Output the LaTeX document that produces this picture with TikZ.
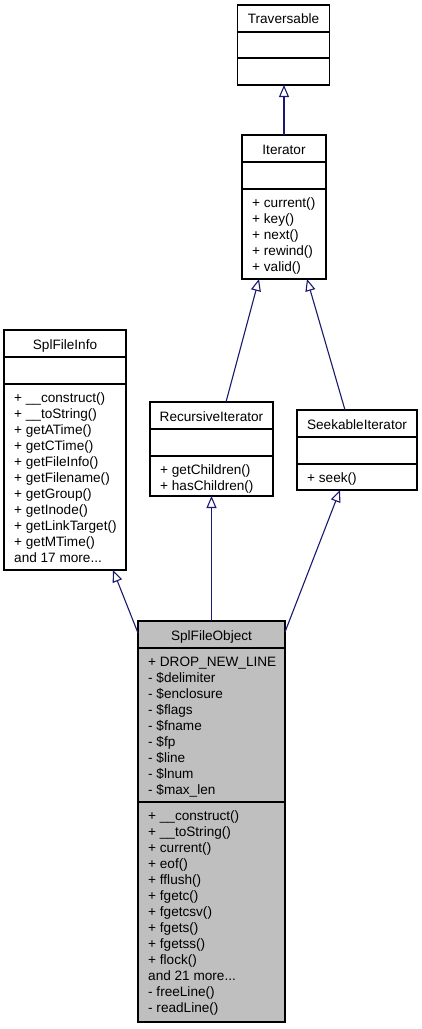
\documentclass[tikz,border=0pt]{standalone}
\usepackage{fontspec}
\setmainfont{Liberation Sans}
\usetikzlibrary{arrows.meta,calc}
\definecolor{edgeblue}{HTML}{191970}
\definecolor{objgray}{HTML}{BFBFBF}
\newcommand\rowfont{\fontsize{13.6}{16}\selectfont}
\newcommand\mdots{...}
\newcommand\umlrows[4]{%
  \foreach \t [count=\i] in {#4} {\node[row] (#1\i) at ({#2},{#3+16*(\i-1)}) {\t};}}
\begin{document}
\begin{tikzpicture}[x=1pt,y=-1pt,
  umlbox/.style={draw=black,line width=1.2pt,anchor=north west,inner sep=0pt,outer sep=0pt},
  divider/.style={draw=black,line width=1.2pt},
  title/.style={anchor=base,inner sep=0pt,font=\rowfont},
  row/.style={anchor=base west,inner sep=0pt,font=\rowfont},
  inherit/.style={draw=edgeblue,line width=1.1pt,-{Triangle[open,length=12pt,width=10pt,fill=white,line width=1.1pt]}}]
\useasboundingbox (0,0) rectangle (421,1029);
\fill[white] (0,0) rectangle (421,1029);

% Traversable
\node[umlbox,minimum width=92pt,minimum height=80pt] (trav) at (237.5,5) {};
\draw[divider] (237.5,32) -- (329.5,32);
\draw[divider] (237.5,58) -- (329.5,58);
\node[title] (travT) at (283.5,23.5) {Traversable};

% Iterator
\node[umlbox,minimum width=84pt,minimum height=144pt] (iter) at (242,135) {};
\draw[divider] (242,162) -- (326,162);
\draw[divider] (242,189) -- (326,189);
\node[title] (iterT) at (284,154) {Iterator};
\umlrows{iterR}{252}{207}{+ current(),+ key(),+ next(),+ rewind(),+ valid()}

% SplFileInfo
\node[umlbox,minimum width=122pt,minimum height=240pt] (info) at (4,330) {};
\draw[divider] (4,357) -- (126,357);
\draw[divider] (4,384) -- (126,384);
\node[title] (infoT) at (65,349) {SplFileInfo};
\umlrows{infoR}{14}{402}{+ \_\_construct(),+ \_\_toString(),+ getATime(),+ getCTime(),+ getFileInfo(),+ getFilename(),+ getGroup(),+ getInode(),+ getLinkTarget(),+ getMTime(),and 17 more\mdots}

% RecursiveIterator
\node[umlbox,minimum width=123pt,minimum height=94pt] (rec) at (150,402) {};
\draw[divider] (150,429) -- (273,429);
\draw[divider] (150,456) -- (273,456);
\node[title] (recT) at (211.5,421) {RecursiveIterator};
\umlrows{recR}{160}{474}{+ getChildren(),+ hasChildren()}

% SeekableIterator
\node[umlbox,minimum width=120pt,minimum height=80pt] (seek) at (297,410) {};
\draw[divider] (297,437) -- (417,437);
\draw[divider] (297,464) -- (417,464);
\node[title] (seekT) at (357,429) {SeekableIterator};
\umlrows{seekR}{307}{482}{+ seek()}

% SplFileObject
\node[umlbox,fill=objgray,minimum width=147pt,minimum height=401pt] (obj) at (138,621) {};
\draw[divider] (138,648) -- (285,648);
\draw[divider] (138,802) -- (285,802);
\node[title] (objT) at (211.5,640) {SplFileObject};
\umlrows{objA}{148}{666}{+ DROP\_NEW\_LINE,- \$delimiter,- \$enclosure,- \$flags,- \$fname,- \$fp,- \$line,- \$lnum,- \$max\_len}
\umlrows{objM}{148}{820}{+ \_\_construct(),+ \_\_toString(),+ current(),+ eof(),+ fflush(),+ fgetc(),+ fgetcsv(),+ fgets(),+ fgetss(),+ flock(),and 21 more\mdots,- freeLine(),- readLine()}

% connector end points
\coordinate (iterIn1) at ($(iter.south west)+(17,0)$);
\coordinate (iterIn2) at ($(iter.south west)+(65,0)$);
\coordinate (recOut) at ($(rec.north west)+(76,0)$);
\coordinate (seekOut) at ($(seek.north west)+(48,0)$);
\coordinate (infoIn) at ($(info.south east)+(-13,0)$);
\coordinate (seekIn) at ($(seek.south west)+(43,0)$);
\coordinate (objOut1) at ($(obj.north west)+(0,12)$);
\coordinate (objOut3) at ($(obj.north east)+(0,11)$);

% inheritance connectors
\draw[inherit] (iter.north) -- (iter.north |- trav.south);
\draw[inherit] (recOut) -- (iterIn1);
\draw[inherit] (seekOut) -- (iterIn2);
\draw[inherit] (objOut1) -- (infoIn);
\draw[inherit] (obj.north) -- (rec.south);
\draw[inherit] (objOut3) -- (seekIn);
\end{tikzpicture}
\end{document}
